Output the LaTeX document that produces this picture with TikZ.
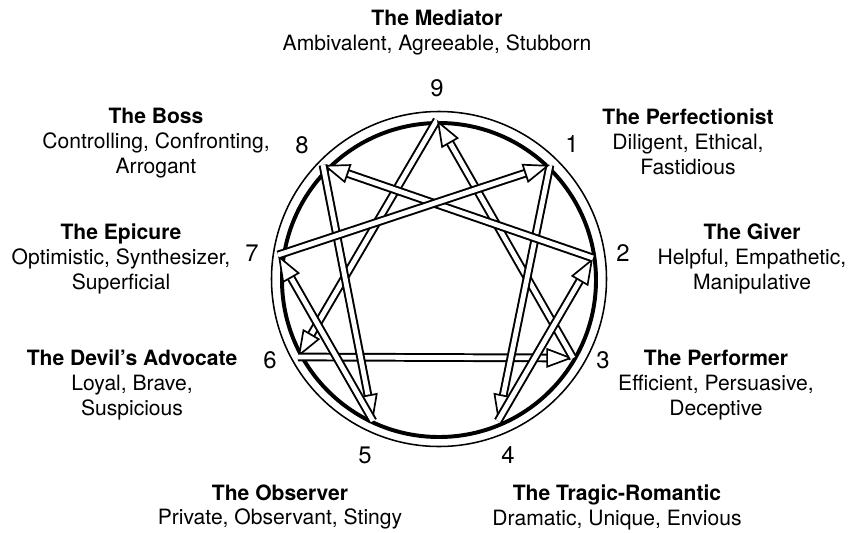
\documentclass[tikz,border=0pt]{standalone}
\usepackage{fontspec}
\setmainfont{TeX Gyre Heros}
\usetikzlibrary{arrows.meta,calc}

\tikzset{
  trait/.style={align=center, font=\fontsize{15}{17.7}\selectfont},
  typenum/.style={font=\fontsize{17}{20}\selectfont},
  shaft/.style={draw=black, line width=1.4pt, double=white, double distance=3.4pt, shorten >=14pt},
  headtip/.style={line width=1.2pt, -{Triangle[open, fill=white, length=19pt, width=14pt]}},
}
\newcommand{\typearrow}[2]{%
  \draw[shaft] (#1) -- (#2);
  \draw[headtip] ($(#2)!19pt!(#1)$) -- (#2);
}

\begin{document}
\begin{tikzpicture}[x=0.025cm, y=-0.025cm]
		\useasboundingbox (0,0) rectangle (857,533);
		% ring
		\draw[line width=1.1pt] (439,279) circle (167.5);
		\draw[line width=2.8pt] (439,280) circle (157);
		
		% the nine points
		\coordinate (p9) at (437,120);
		\coordinate (p1) at (550,165);
		\coordinate (p2) at (593,258);
		\coordinate (p3) at (573,358);
		\coordinate (p4) at (498,421);
		\coordinate (p5) at (373,421);
		\coordinate (p6) at (298,357);
		\coordinate (p7) at (278,255);
		\coordinate (p8) at (323,165);
		
		% triangle and hexad
		\typearrow{p9}{p6}
		\typearrow{p6}{p3}
		\typearrow{p3}{p9}
		\typearrow{p1}{p4}
		\typearrow{p4}{p2}
		\typearrow{p2}{p8}
		\typearrow{p8}{p5}
		\typearrow{p5}{p7}
		\typearrow{p7}{p1}
		
		% numbers
		\node[typenum] (n9) at (437,88) {9};
		\node[typenum] (n1) at (572,144) {1};
		\node[typenum] (n2) at (623,253) {2};
		\node[typenum] (n3) at (603,360) {3};
		\node[typenum] (n4) at (508,455) {4};
		\node[typenum] (n5) at (365,455) {5};
		\node[typenum] (n6) at (270,360) {6};
		\node[typenum] (n7) at (252,253) {7};
		\node[typenum] (n8) at (302,145) {8};
		
		% type descriptions
		\node[trait] (mediator) at (437,32) {\textbf{The Mediator}\\Ambivalent, Agreeable, Stubborn};
		\node[trait] (perfectionist) at (688,142) {\textbf{The Perfectionist}\\Diligent, Ethical,\\Fastidious};
		\node[trait] (giver) at (752,259) {\textbf{The Giver}\\Helpful, Empathetic,\\Manipulative};
		\node[trait] (performer) at (716,385) {\textbf{The Performer}\\Efficient, Persuasive,\\Deceptive};
		\node[trait] (tragic) at (617,507) {\textbf{The Tragic-Romantic}\\Dramatic, Unique, Envious};
		\node[trait] (observer) at (280,507) {\textbf{The Observer}\\Private, Observant, Stingy};
		\node[trait] (devil) at (132,385) {\textbf{The Devil's Advocate}\\Loyal, Brave,\\Suspicious};
		\node[trait] (epicure) at (121,259) {\textbf{The Epicure}\\Optimistic, Synthesizer,\\Superficial};
		\node[trait] (boss) at (156,143) {\textbf{The Boss}\\Controlling, Confronting,\\Arrogant};
	\end{tikzpicture}
\end{document}
